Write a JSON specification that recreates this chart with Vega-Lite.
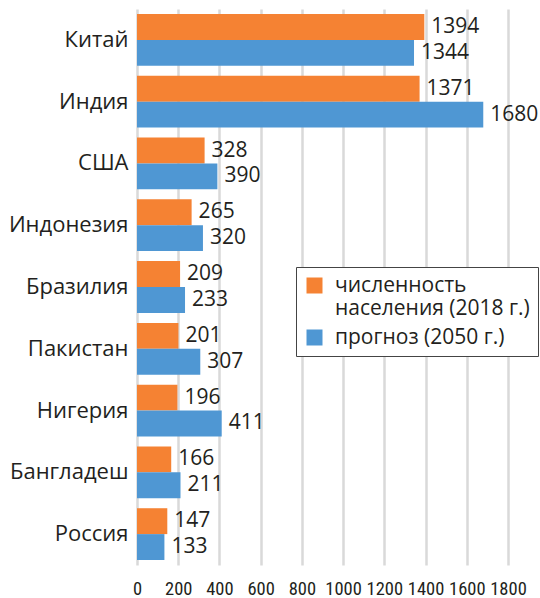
{
  "$schema": "https://vega.github.io/schema/vega-lite/v6.json",
  "autosize": {"type": "none"},
  "padding": {"left": 137, "top": 9, "right": 32, "bottom": 33},
  "width": 371,
  "height": 556,
  "background": "white",
  "config": {
    "font": "Open Sans",
    "view": {"stroke": null}
  },
  "data": {
    "values": [
      {"country": "Китай", "series": "численность населения (2018 г.)", "value": 1394},
      {"country": "Китай", "series": "прогноз (2050 г.)", "value": 1344},
      {"country": "Индия", "series": "численность населения (2018 г.)", "value": 1371},
      {"country": "Индия", "series": "прогноз (2050 г.)", "value": 1680},
      {"country": "США", "series": "численность населения (2018 г.)", "value": 328},
      {"country": "США", "series": "прогноз (2050 г.)", "value": 390},
      {"country": "Индонезия", "series": "численность населения (2018 г.)", "value": 265},
      {"country": "Индонезия", "series": "прогноз (2050 г.)", "value": 320},
      {"country": "Бразилия", "series": "численность населения (2018 г.)", "value": 209},
      {"country": "Бразилия", "series": "прогноз (2050 г.)", "value": 233},
      {"country": "Пакистан", "series": "численность населения (2018 г.)", "value": 201},
      {"country": "Пакистан", "series": "прогноз (2050 г.)", "value": 307},
      {"country": "Нигерия", "series": "численность населения (2018 г.)", "value": 196},
      {"country": "Нигерия", "series": "прогноз (2050 г.)", "value": 411},
      {"country": "Бангладеш", "series": "численность населения (2018 г.)", "value": 166},
      {"country": "Бангладеш", "series": "прогноз (2050 г.)", "value": 211},
      {"country": "Россия", "series": "численность населения (2018 г.)", "value": 147},
      {"country": "Россия", "series": "прогноз (2050 г.)", "value": 133}
    ]
  },
  "encoding": {
    "y": {
      "field": "country",
      "type": "nominal",
      "sort": null,
      "scale": {"paddingInner": 0.162, "paddingOuter": 0.081},
      "axis": {
        "title": null,
        "domain": false,
        "ticks": false,
        "labelPadding": 9,
        "labelFontSize": 22,
        "labelColor": "#231f20",
        "labelFont": "Open Sans"
      }
    },
    "yOffset": {
      "field": "series",
      "type": "nominal",
      "sort": ["численность населения (2018 г.)", "прогноз (2050 г.)"]
    },
    "x": {
      "field": "value",
      "type": "quantitative",
      "scale": {"domain": [0, 1800], "nice": false},
      "axis": {
        "title": null,
        "values": [0, 200, 400, 600, 800, 1000, 1200, 1400, 1600, 1800],
        "format": "d",
        "labelOverlap": false,
        "labelBound": false,
        "labelFlush": false,
        "domain": false,
        "ticks": false,
        "grid": true,
        "gridColor": "#d9d9d9",
        "gridWidth": 2.5,
        "labelPadding": 14,
        "labelFontSize": 18.5,
        "labelColor": "#231f20",
        "labelFont": "Liberation Sans Narrow, Roboto Condensed, Open Sans"
      }
    }
  },
  "layer": [
    {
      "mark": {"type": "bar"},
      "encoding": {
        "color": {
          "field": "series",
          "type": "nominal",
          "scale": {
            "domain": ["численность населения (2018 г.)", "прогноз (2050 г.)"],
            "range": ["#f58233", "#4f97d3"]
          },
          "legend": {
            "title": null,
            "orient": "none",
            "legendX": 159,
            "legendY": 258,
            "direction": "vertical",
            "symbolType": "square",
            "symbolSize": 256,
            "symbolStrokeWidth": 0,
            "symbolOpacity": 1,
            "labelFontSize": 21,
            "labelColor": "#231f20",
            "labelFont": "Open Sans",
            "labelLimit": 300,
            "labelOffset": 10,
            "rowPadding": 7,
            "padding": 8,
            "strokeColor": "#444444",
            "fillColor": "white",
            "labelExpr": "datum.label == 'численность населения (2018 г.)' ? ['численность', 'населения (2018 г.)'] : datum.label"
          }
        }
      }
    },
    {
      "mark": {
        "type": "text",
        "align": "left",
        "baseline": "middle",
        "dx": 7,
        "fontSize": 21,
        "color": "#231f20",
        "font": "Open Sans"
      },
      "encoding": {
        "text": {"field": "value", "type": "quantitative"}
      }
    }
  ]
}
